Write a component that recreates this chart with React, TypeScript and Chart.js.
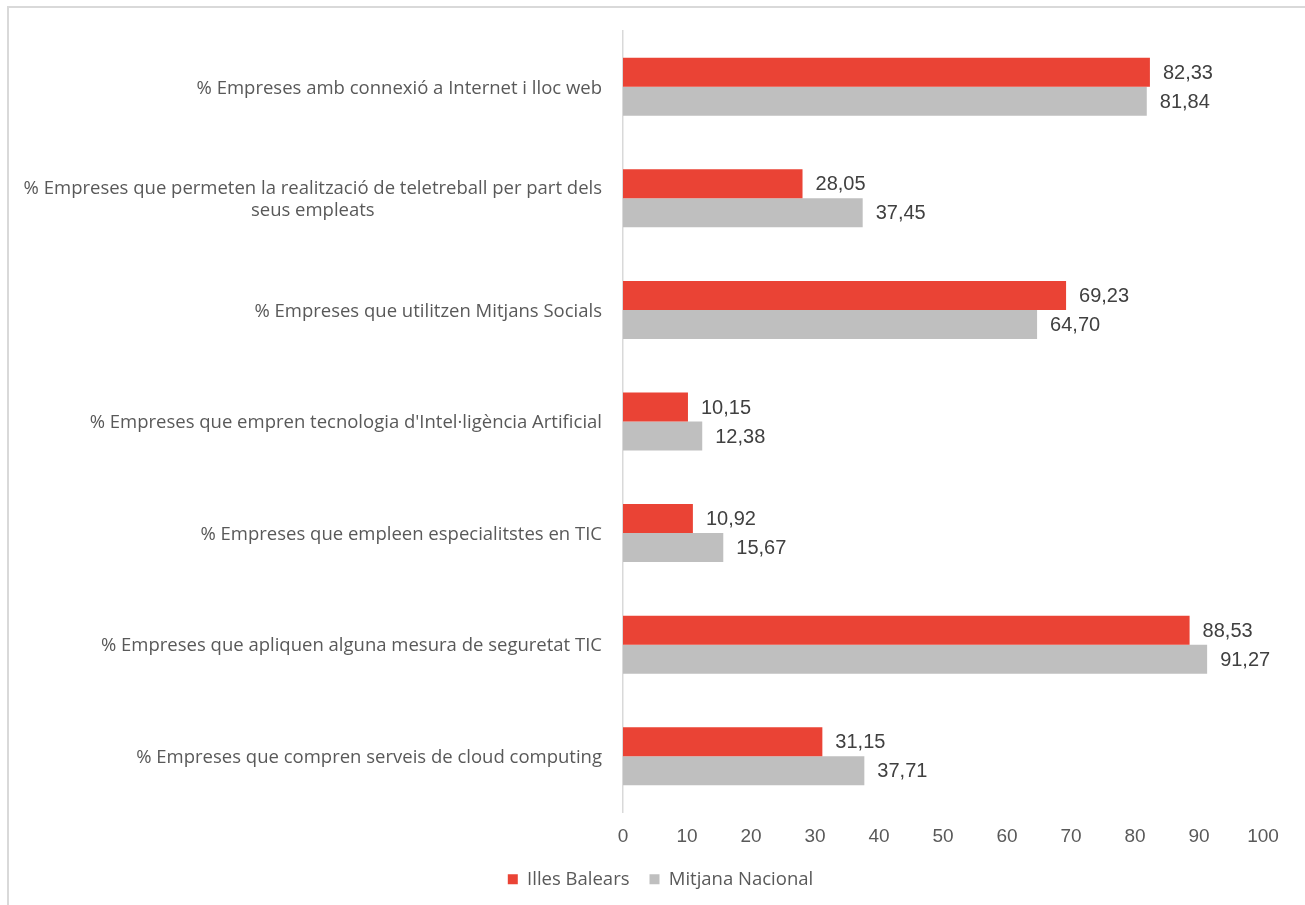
import React, { useEffect, useRef } from "react";
import { Chart, registerables } from "chart.js";

Chart.register(...registerables);

const categories: (string | string[])[] = [
  "% Empreses amb connexió a Internet i lloc web",
  ["% Empreses que permeten la realització de teletreball per part dels", "seus empleats"],
  "% Empreses que utilitzen Mitjans Socials",
  "% Empreses que empren tecnologia d'Intel·ligència Artificial",
  "% Empreses que empleen especialitstes en TIC",
  "% Empreses que apliquen alguna mesura de seguretat TIC",
  "% Empreses que compren serveis de cloud computing",
];

const seriesNames = ["Illes Balears", "Mitjana Nacional"];
const illesBalears = [82.33, 28.05, 69.23, 10.15, 10.92, 88.53, 31.15];
const mitjanaNacional = [81.84, 37.45, 64.7, 12.38, 15.67, 91.27, 37.71];

const xMin = 0;
const xMax = 100;
const xStep = 10;

const RED = "#EA4335";
const GRAY = "#BFBFBF";
const LABEL_COLOR = "#595959";
const VALUE_COLOR = "#404040";
const NUM_FONT = "Liberation Sans";
const TEXT_FONT = "Open Sans";

const framePlugin = {
  id: "frame",
  beforeDraw(chart: any) {
    const ctx = chart.ctx;
    ctx.save();
    ctx.fillStyle = "#FFFFFF";
    ctx.fillRect(0, 0, chart.width, chart.height);
    ctx.fillStyle = "#D9D9D9";
    ctx.fillRect(7, 6, chart.width - 7, 2);
    ctx.fillRect(7, 6, 2, chart.height - 6);
    ctx.restore();
  },
};

const categoryLabelPlugin = {
  id: "categoryLabels",
  afterDraw(chart: any) {
    const ctx = chart.ctx;
    const yScale = chart.scales.y;
    const right = chart.chartArea.left - 21;
    const lineH = 22.5;
    ctx.save();
    ctx.font = `18.5px "${TEXT_FONT}"`;
    ctx.fillStyle = LABEL_COLOR;
    ctx.textBaseline = "middle";
    (chart.data.labels as (string | string[])[]).forEach((lab, i) => {
      const y = yScale.getPixelForValue(i) + 1.5;
      const lines = Array.isArray(lab) ? lab : [lab];
      const widths = lines.map((l) => ctx.measureText(l).width);
      const maxW = Math.max(...widths);
      const center = right - maxW / 2;
      const startY = y - ((lines.length - 1) * lineH) / 2;
      lines.forEach((l, j) => {
        ctx.textAlign = "center";
        ctx.fillText(l, center, startY + j * lineH);
      });
    });
    ctx.restore();
  },
};

const valueLabelPlugin = {
  id: "valueLabels",
  afterDatasetsDraw(chart: any) {
    const ctx = chart.ctx;
    ctx.save();
    ctx.font = `20px "${NUM_FONT}"`;
    ctx.fillStyle = VALUE_COLOR;
    ctx.textAlign = "left";
    ctx.textBaseline = "middle";
    chart.data.datasets.forEach((ds: any, di: number) => {
      const meta = chart.getDatasetMeta(di);
      meta.data.forEach((bar: any, i: number) => {
        const v = ds.data[i] as number;
        ctx.fillText(v.toFixed(2).replace(".", ","), bar.x + 13, bar.y + 1);
      });
    });
    ctx.restore();
  },
};

export default function App() {
  const canvasRef = useRef<HTMLCanvasElement | null>(null);

  useEffect(() => {
    if (!canvasRef.current) return;
    const chart = new Chart(canvasRef.current, {
      type: "bar",
      data: {
        labels: categories,
        datasets: [
          {
            label: seriesNames[0],
            data: illesBalears,
            backgroundColor: RED,
            categoryPercentage: 0.52,
            barPercentage: 1,
          },
          {
            label: seriesNames[1],
            data: mitjanaNacional,
            backgroundColor: GRAY,
            categoryPercentage: 0.52,
            barPercentage: 1,
          },
        ],
      },
      options: {
        indexAxis: "y",
        responsive: false,
        animation: false,
        layout: { padding: { left: 58, right: 42, top: 31, bottom: 6.5 } },
        scales: {
          x: {
            min: xMin,
            max: xMax,
            grid: { display: false, drawTicks: false },
            border: { display: false },
            ticks: {
              stepSize: xStep,
              padding: 13,
              color: LABEL_COLOR,
              font: { family: NUM_FONT, size: 19 },
            },
            afterFit(scale: any) {
              scale.height = 38;
            },
          },
          y: {
            grid: { display: false, drawTicks: false },
            border: { display: true, color: "#D9D9D9", width: 1.5 },
            ticks: { display: false },
            afterFit(scale: any) {
              scale.width = 565;
            },
          },
        },
        plugins: {
          legend: {
            position: "bottom",
            labels: {
              boxWidth: 10,
              boxHeight: 10,
              padding: 20,
              color: LABEL_COLOR,
              font: { family: TEXT_FONT, size: 18.5 },
            },
          },
          tooltip: { enabled: false },
        },
      },
      plugins: [framePlugin, categoryLabelPlugin, valueLabelPlugin],
    });
    return () => chart.destroy();
  }, []);

  return (
    <div style={{ position: "absolute", left: 0, top: 0, width: 1305, height: 905 }}>
      <canvas ref={canvasRef} width={1305} height={905} style={{ display: "block" }} />
    </div>
  );
}
